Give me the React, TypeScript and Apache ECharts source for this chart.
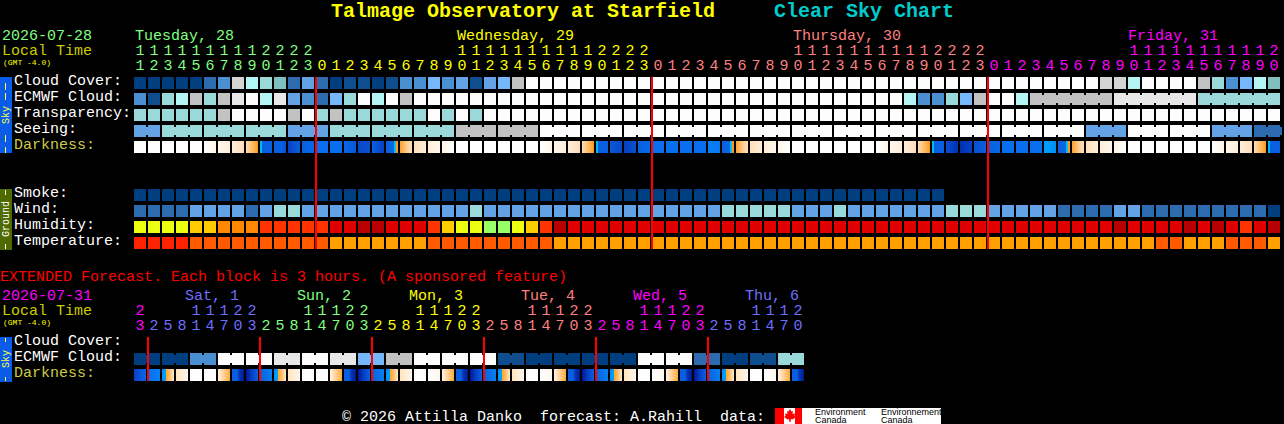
import React, { useEffect, useRef } from "react";
import * as echarts from "echarts";

// ---------- tick labels ----------
const hoursMain = [
  11, 12, 13, 14, 15, 16, 17, 18, 19, 20, 21, 22, 23,
  0, 1, 2, 3, 4, 5, 6, 7, 8, 9, 10, 11, 12, 13, 14, 15, 16, 17, 18, 19, 20, 21, 22, 23,
  0, 1, 2, 3, 4, 5, 6, 7, 8, 9, 10, 11, 12, 13, 14, 15, 16, 17, 18, 19, 20, 21, 22, 23,
  0, 1, 2, 3, 4, 5, 6, 7, 8, 9, 10, 11, 12, 13, 14, 15, 16, 17, 18, 19, 20,
];
const dayOfColMain = [
  0, 0, 0, 0, 0, 0, 0, 0, 0, 0, 0, 0, 0,
  1, 1, 1, 1, 1, 1, 1, 1, 1, 1, 1, 1, 1, 1, 1, 1, 1, 1, 1, 1, 1, 1, 1, 1,
  2, 2, 2, 2, 2, 2, 2, 2, 2, 2, 2, 2, 2, 2, 2, 2, 2, 2, 2, 2, 2, 2, 2, 2,
  3, 3, 3, 3, 3, 3, 3, 3, 3, 3, 3, 3, 3, 3, 3, 3, 3, 3, 3, 3, 3,
];
const hoursExt = [
  23,
  2, 5, 8, 11, 14, 17, 20, 23,
  2, 5, 8, 11, 14, 17, 20, 23,
  2, 5, 8, 11, 14, 17, 20, 23,
  2, 5, 8, 11, 14, 17, 20, 23,
  2, 5, 8, 11, 14, 17, 20, 23,
  2, 5, 8, 11, 14, 17, 20,
];
const dayOfColExt = [
  0,
  1, 1, 1, 1, 1, 1, 1, 1,
  2, 2, 2, 2, 2, 2, 2, 2,
  3, 3, 3, 3, 3, 3, 3, 3,
  4, 4, 4, 4, 4, 4, 4, 4,
  5, 5, 5, 5, 5, 5, 5, 5,
  6, 6, 6, 6, 6, 6, 6,
];
const rowLabelsMain = [
  "Cloud Cover:", "ECMWF Cloud:", "Transparency:", "Seeing:", "Darkness:", "", "",
  "Smoke:", "Wind:", "Humidity:", "Temperature:",
];
const rowLabelsExt = ["Cloud Cover:", "ECMWF Cloud:", "Darkness:"];

// ---------- series values (levels into the palettes below) ----------
const cloudCover = [
  0, 0, 0, 0, 0, 2, 3, 12, 8, 6,
  7, 2, 4, 2, 0, 1, 1, 0, 1, 3,
  3, 5, 3, 4, 1, 4, 5, 9, 11, 11,
  11, 11, 11, 11, 11, 11, 11, 11, 11, 11,
  11, 11, 11, 11, 11, 11, 11, 11, 11, 11,
  11, 11, 11, 11, 11, 11, 11, 11, 11, 11,
  11, 11, 11, 11, 11, 11, 11, 11, 11, 12,
  12, 8, 11, 11, 11, 11, 9, 6, 3, 5,
  8, 7,
];
const ecmwfCloud = [
  3, 1, 6, 8, 9, 6, 9, 10, 11, 8,
  10, 4, 3, 2, 5, 6, 11, 8, 11, 9,
  11, 11, 11, 11, 11, 11, 11, 11, 11, 11,
  11, 11, 11, 11, 11, 11, 11, 11, 11, 11,
  11, 11, 11, 11, 11, 11, 11, 11, 11, 11,
  11, 11, 11, 11, 11, 8, 3, 3, 6, 5,
  9, 11, 11, 8, 9, 9, 9, 9, 9, 9,
  10, 10, 10, 10, 10, 10, 6, 6, 6, 6,
  6, 6,
];
const transparency = [
  6, 6, 6, 6, 6, 6, 9, 11, 11, 11,
  11, 9, 11, 6, 9, 6, 6, 6, 6, 6,
  6, 11, 6, 11, 6, 11, 11, 11, 11, 11,
  11, 11, 11, 11, 11, 11, 11, 11, 11, 11,
  11, 11, 11, 11, 11, 11, 11, 11, 11, 11,
  11, 11, 11, 11, 11, 11, 11, 11, 11, 11,
  11, 11, 11, 11, 11, 11, 11, 11, 11, 11,
  11, 11, 11, 11, 11, 11, 11, 11, 11, 11,
  11, 11,
];
const seeing = [
  4, 4, 6, 6, 6, 6, 6, 6, 6, 6,
  6, 4, 4, 4, 6, 6, 6, 6, 6, 6,
  6, 6, 6, 9, 9, 9, 9, 9, 9, 11,
  11, 11, 11, 11, 11, 11, 11, 11, 11, 11,
  11, 11, 11, 11, 11, 11, 11, 11, 11, 11,
  11, 11, 11, 11, 11, 11, 11, 11, 11, 11,
  11, 11, 11, 11, 11, 11, 11, 11, 4, 4,
  4, 11, 11, 11, 11, 11, 11, 4, 4, 4,
  2, 2,
];
const smoke = [
  0, 0, 0, 0, 0, 0, 0, 0, 0, 0,
  0, 0, 0, 0, 0, 0, 0, 0, 0, 0,
  0, 0, 0, 0, 0, 0, 0, 0, 0, 0,
  0, 0, 0, 0, 0, 0, 0, 0, 0, 0,
  0, 0, 0, 0, 0, 0, 0, 0, 0, 0,
  0, 0, 0, 0, 0, 0, 0, 0,
];
const wind = [
  2, 2, 2, 2, 4, 4, 4, 4, 2, 4,
  6, 6, 4, 4, 4, 4, 4, 4, 4, 4,
  4, 4, 4, 4, 6, 4, 4, 4, 4, 4,
  4, 4, 4, 4, 4, 4, 4, 4, 4, 4,
  4, 4, 6, 6, 6, 6, 6, 4, 4, 4,
  6, 4, 4, 4, 4, 4, 4, 4, 6, 6,
  6, 4, 4, 4, 4, 4, 2, 2, 2, 2,
  4, 4, 2, 2, 2, 2, 2, 2, 2, 2,
  2, 0,
];
const humidity = [
  0, 0, 0, 0, 1, 1, 2, 2, 2, 3,
  3, 3, 3, 3, 4, 4, 5, 5, 4, 4,
  4, 3, 1, 0, 0, 6, 6, 0, 1, 3,
  5, 4, 4, 4, 4, 4, 4, 4, 4, 4,
  4, 4, 4, 4, 4, 4, 4, 4, 4, 4,
  4, 4, 4, 4, 4, 4, 4, 4, 4, 4,
  4, 4, 4, 4, 4, 4, 4, 4, 4, 4,
  5, 4, 4, 4, 4, 5, 4, 5, 4, 3,
  4, 5,
];
const temperature = [
  0, 0, 0, 0, 1, 1, 1, 1, 1, 1,
  1, 1, 1, 1, 2, 2, 2, 2, 2, 2,
  2, 1, 1, 1, 1, 1, 1, 1, 1, 1,
  2, 2, 2, 2, 2, 2, 2, 2, 2, 2,
  2, 2, 2, 2, 2, 2, 2, 2, 2, 2,
  2, 2, 2, 2, 2, 2, 2, 2, 2, 2,
  2, 2, 2, 2, 2, 2, 2, 2, 2, 2,
  2, 2, 2, 1, 1, 2, 2, 2, 1, 1,
  1, 2,
];
const darknessMain = [
  "W", "W", "W", "W", "W", "A", "B", "C", "D", "E",
  "b", "c", "d", "e", "e", "f", "g", "h", "F", "G",
  "C2", "B2", "A2", "W", "W", "W", "W", "W", "W", "A",
  "B", "C", "D", "E", "j", "k", "d", "e", "e", "e",
  "e", "l", "F", "G", "C2", "B2", "A2", "W", "W", "W",
  "W", "W", "W", "A", "B", "C", "D", "E", "m", "n",
  "o", "d", "e", "e", "e", "p", "F", "G", "C2", "B2",
  "A2", "W", "W", "W", "W", "W", "W", "A", "B", "C",
  "D", "E",
];
const ecmwfExt = [
  0, 0, 0, 0, 3, 3, 11, 11, 11, 11,
  10, 10, 11, 11, 10, 10, 5, 5, 9, 9,
  11, 11, 11, 11, 11, 11, 1, 1, 0, 0,
  0, 0, 0, 0, 0, 0, 11, 11, 11, 11,
  2, 2, 0, 0, 1, 1, 6, 6,
];
const darknessExt = [
  "s", "t", "u", "q", "W", "W", "v", "x",
  "y", "z", "u", "q", "W", "W", "v", "x",
  "y", "z", "u", "q", "W", "A", "v", "x",
  "y", "z", "u", "q", "W", "A", "v", "x",
  "y", "z", "u", "q", "W", "A", "v", "x",
  "y", "z", "u", "q", "W", "A", "v", "x",
];
const seeingBlockStarts = [
  0, 2, 5, 8, 11, 14, 17, 20, 23, 26, 29, 32, 35, 38, 41, 44, 47, 50, 53, 56, 59, 62, 65, 68, 71, 74, 77, 80,
];
const ecmwfJoinedBlocks = [[64, 69], [70, 75], [76, 81]];
const midnightColsMain = [13, 37, 61];
const midnightColsExt = [1, 9, 17, 25, 33, 41];

// ---------- styles ----------
const MONO = '"Liberation Mono", monospace';
const cloudPalette = [
  "#003f7f", "#0f4e8e", "#2c6cae", "#4b8fd3", "#62a2e5", "#76b6fa", "#99d9d9",
  "#7fbfbf", "#b3f5f5", "#c2c2c2", "#e8e8e8", "#fdfdfd", "#d4d4d4",
];
const humidityPalette = ["#ecff10", "#ffcc00", "#ff8800", "#ff3300", "#e00000", "#b80000", "#99ff66"];
const temperaturePalette = ["#ff2200", "#ff5a00", "#ffa000"];
const dayColorsMain = ["#80ff80", "#ffff00", "#ff8080", "#ff00ff"];
const dayColorsExt = ["#ff00ff", "#6f6fff", "#80ff80", "#ffff00", "#ff8080", "#ff00ff", "#6f6fff"];

type Stop = [number, string];
const darkTokens: Record<string, Stop[]> = {
  W: [[0, "#ffffff"], [1, "#ffffff"]],
  A: [[0, "#ffffff"], [1, "#fff6ea"]],
  B: [[0, "#fff6ea"], [1, "#ffeed8"]],
  C: [[0, "#ffeed8"], [1, "#ffdfb8"]],
  D: [[0, "#ffdcae"], [0.6, "#ffb860"], [1, "#ff9a10"]],
  E: [[0, "#00b0f0"], [0.16, "#00c0f0"], [0.18, "#0860e0"], [1, "#0860e0"]],
  F: [[0, "#0860e0"], [0.66, "#0868e8"], [0.68, "#00c0f0"], [0.82, "#00c0f0"], [0.84, "#ff9a10"], [1, "#ff9a10"]],
  G: [[0, "#ffa030"], [0.6, "#ffd090"], [1, "#ffe0b8"]],
  C2: [[0, "#ffdfb8"], [1, "#ffeed8"]],
  B2: [[0, "#ffeed8"], [1, "#fff6ea"]],
  A2: [[0, "#fff6ea"], [1, "#ffffff"]],
  b: [[0, "#0860e0"], [0.6, "#0860e0"], [1, "#0850d0"]],
  c: [[0, "#0840c0"], [1, "#0860e0"]],
  d: [[0, "#0860e0"], [1, "#0868e8"]],
  e: [[0, "#0870f0"], [1, "#0870f0"]],
  f: [[0, "#0868e8"], [1, "#0858d8"]],
  g: [[0, "#0848c8"], [1, "#0850d0"]],
  h: [[0, "#0860e0"], [1, "#0840c8"]],
  j: [[0, "#0858d8"], [1, "#0848c8"]],
  k: [[0, "#0840c0"], [1, "#0850d0"]],
  l: [[0, "#0880f8"], [1, "#0878f0"]],
  m: [[0, "#0850d8"], [1, "#0030b0"]],
  n: [[0, "#0030b0"], [1, "#0840c8"]],
  o: [[0, "#0850d0"], [1, "#0860e0"]],
  p: [[0, "#00a0ff"], [1, "#0090f8"]],
  s: [[0, "#0840c8"], [1, "#0868e8"]],
  t: [[0, "#0870f0"], [1, "#0880f8"]],
  u: [[0, "#0090f8"], [0.32, "#00a0ff"], [0.34, "#ffa020"], [1, "#ffe8c8"]],
  q: [[0, "#ffe4c0"], [1, "#fff6ea"]],
  v: [[0, "#fff4e4"], [0.5, "#ffd090"], [1, "#ffa840"]],
  x: [[0, "#0860e0"], [0.45, "#0860e0"], [0.5, "#0840c0"], [1, "#001a90"]],
  y: [[0, "#001a90"], [0.5, "#0840c8"], [1, "#0860e0"]],
  z: [[0, "#0860e0"], [1, "#0880f0"]],
};

function cellSeries(
  name: string,
  gridAxis: number,
  row: number,
  values: number[],
  palette: string[],
  joinsNext: (col: number) => boolean,
) {
  return {
    name,
    type: "custom",
    xAxisIndex: gridAxis,
    yAxisIndex: gridAxis === 0 ? 0 : 1,
    silent: true,
    clip: false,
    encode: { x: 0, y: 1 },
    data: values.map((v, col) => [col, row, v]),
    renderItem: (_p: any, api: any) => {
      const col = api.value(0);
      const [cx, cy] = api.coord([col, api.value(1)]);
      const fill = palette[api.value(2)];
      const children: any[] = [
        { type: "rect", shape: { x: cx - 6, y: cy - 6, width: 12, height: 12 }, style: { fill } },
      ];
      if (joinsNext(col)) {
        children.push({ type: "rect", shape: { x: cx + 6, y: cy - 4, width: 2, height: 8 }, style: { fill } });
      }
      return { type: "group", children };
    },
  };
}

function darknessSeries(name: string, gridAxis: number, row: number, tokens: string[]) {
  return {
    name,
    type: "custom",
    xAxisIndex: gridAxis,
    yAxisIndex: gridAxis === 0 ? 0 : 1,
    silent: true,
    clip: false,
    encode: { x: 0, y: 1 },
    data: tokens.map((_t, col) => [col, row]),
    renderItem: (p: any, api: any) => {
      const [cx, cy] = api.coord([api.value(0), api.value(1)]);
      const stops = darkTokens[tokens[p.dataIndex]].map(([offset, color]) => ({ offset, color }));
      return {
        type: "rect",
        shape: { x: cx - 6, y: cy - 6, width: 12, height: 12 },
        style: { fill: new echarts.graphic.LinearGradient(0, 0, 1, 0, stops) },
      };
    },
  };
}

function midnightSeries(name: string, gridAxis: number, cols: number[], lastRow: number) {
  return {
    name,
    type: "custom",
    xAxisIndex: gridAxis,
    yAxisIndex: gridAxis === 0 ? 0 : 1,
    silent: true,
    clip: false,
    z: 10,
    encode: { x: 0, y: 1 },
    data: cols.map((c) => [c, lastRow]),
    renderItem: (_p: any, api: any) => {
      const col = api.value(0);
      const top = api.coord([col, 0]);
      const bottom = api.coord([col, api.value(1)]);
      const x = top[0] - api.size([1, 0])[0] / 2;
      return {
        type: "rect",
        shape: { x, y: top[1] - 6, width: 2, height: bottom[1] - top[1] + 12 },
        style: { fill: "#ff0000" },
      };
    },
  };
}

function hourAxis(gridIndex: number, labels: string[], offset: number, colorOf: (i: number) => string) {
  return {
    type: "category",
    gridIndex,
    position: "top",
    offset,
    boundaryGap: true,
    data: labels,
    axisLine: { show: false },
    axisTick: { show: false },
    splitLine: { show: false },
    axisLabel: {
      interval: 0,
      margin: 0,
      verticalAlign: "middle",
      fontFamily: MONO,
      fontSize: 15,
      color: (_v: any, i: number) => colorOf(i),
    },
  };
}

function rowAxis(gridIndex: number, labels: string[]) {
  return {
    type: "category",
    gridIndex,
    inverse: true,
    boundaryGap: true,
    data: labels,
    axisLine: { show: false },
    axisTick: { show: false },
    splitLine: { show: false },
    axisLabel: {
      interval: 0,
      margin: 119,
      align: "left",
      verticalAlign: "bottom",
      lineHeight: 4,
      fontFamily: MONO,
      fontSize: 15,
      color: (v: string) => (v === "Darkness:" ? "#cccc44" : "#ffffff"),
    },
  };
}

const label = (text: string, x: number, y: number, fill: string, size = 15, weight = "normal") => ({
  type: "text",
  x,
  y,
  silent: true,
  style: {
    text,
    fill,
    font: `${weight} ${size}px ${MONO}`,
    align: "left",
    verticalAlign: "middle",
  },
});

const vertical = (text: string, x: number, y: number, fill: string, size = 10) => ({
  type: "text",
  x,
  y,
  rotation: Math.PI / 2,
  silent: true,
  style: { text, fill, font: `${size}px ${MONO}`, align: "center", verticalAlign: "middle" },
});

const box = (x: number, y: number, width: number, height: number, fill: string) => ({
  type: "rect",
  silent: true,
  shape: { x, y, width, height },
  style: { fill },
});

const sans = (text: string, x: number, y: number) => ({
  type: "text",
  x,
  y,
  silent: true,
  style: { text, fill: "#000000", font: '9px "Liberation Sans"', align: "left", verticalAlign: "middle" },
});

const mapleLeaf = [
  [790, 409], [791.5, 411.5], [793, 411], [792.5, 414], [795, 413.5], [794.5, 416], [796, 417],
  [792.5, 419.5], [791, 419], [790.5, 422], [789.5, 422], [789, 419], [787.5, 419.5], [784, 417],
  [785.5, 416], [785, 413.5], [787.5, 414], [787, 411], [788.5, 411.5],
];

const graphics: any[] = [
  label("Talmage Observatory at Starfield", 331, 11, "#ffff00", 20, "bold"),
  label("Clear Sky Chart", 774, 11, "#00cccc", 20, "bold"),
  label("2026-07-28", 2, 36, dayColorsMain[0]),
  label("Local Time", 2, 51, "#cccc00"),
  label("(GMT -4.0)", 3, 62, "#ffff00", 8),
  label("Tuesday, 28", 135, 36, dayColorsMain[0]),
  label("Wednesday, 29", 457, 36, dayColorsMain[1]),
  label("Thursday, 30", 793, 36, dayColorsMain[2]),
  label("Friday, 31", 1128, 36, dayColorsMain[3]),

  box(0, 77, 12, 76, "#0a5ce8"),
  box(5, 83, 1, 7, "#ffff44"),
  box(5, 93, 1, 7, "#ffff44"),
  vertical("Sky", 6, 115, "#ffff44"),
  box(5, 135, 1, 7, "#ffff44"),
  box(5, 147, 1, 6, "#ffff44"),
  box(0, 189, 12, 61, "#4f6a00"),
  box(5, 190, 1, 5, "#ffffff"),
  vertical("Ground", 6, 219, "#ffffff"),
  box(5, 244, 1, 5, "#ffffff"),

  label("EXTENDED Forecast. Each block is 3 hours. (A sponsored feature)", 0, 277, "#ff0000"),
  label("2026-07-31", 2, 296, "#ff00ff"),
  label("Local Time", 2, 311, "#cccc00"),
  label("(GMT -4.0)", 3, 322, "#ffff00", 8),
  label("Sat, 1", 185, 296, dayColorsExt[1]),
  label("Sun, 2", 297, 296, dayColorsExt[2]),
  label("Mon, 3", 409, 296, dayColorsExt[3]),
  label("Tue, 4", 521, 296, dayColorsExt[4]),
  label("Wed, 5", 633, 296, dayColorsExt[5]),
  label("Thu, 6", 745, 296, dayColorsExt[6]),

  box(0, 337, 12, 45, "#0a5ce8"),
  box(5, 338, 1, 4, "#ffff44"),
  vertical("Sky", 6, 359, "#ffff44"),
  box(5, 377, 1, 4, "#ffff44"),

  label("© 2026 Attilla Danko  forecast: A.Rahill  data: ", 342, 417, "#ffffff"),
  box(775, 408, 166, 16, "#ffffff"),
  box(775, 408, 9, 16, "#ff0000"),
  box(795, 408, 7, 16, "#ff0000"),
  { type: "polygon", silent: true, shape: { points: mapleLeaf }, style: { fill: "#ff0000" } },
  sans("Environment", 815, 412),
  sans("Canada", 815, 420),
  sans("Environnement", 881, 412),
  sans("Canada", 881, 420),
];

function buildOption() {
  const isSeeingJoin = (c: number) => !seeingBlockStarts.includes(c + 1);
  const isEcmwfJoin = (c: number) => ecmwfJoinedBlocks.some(([a, b]) => c >= a && c < b);
  const isExtJoin = (c: number) => c % 2 === 0;
  const never = () => false;
  return {
    animation: false,
    backgroundColor: "#000000",
    grid: [
      { left: 133, top: 75, width: 1148, height: 176, containLabel: false },
      { left: 133, top: 335, width: 672, height: 48, containLabel: false },
    ],
    xAxis: [
      hourAxis(0, hoursMain.map((h) => String(h % 10)), 9, (i) => dayColorsMain[dayOfColMain[i]]),
      hourAxis(0, hoursMain.map((h) => (h >= 10 ? String(Math.floor(h / 10)) : "")), 24, (i) => dayColorsMain[dayOfColMain[i]]),
      hourAxis(1, hoursExt.map((h) => String(h % 10)), 9, (i) => dayColorsExt[dayOfColExt[i]]),
      hourAxis(1, hoursExt.map((h) => (h >= 10 ? String(Math.floor(h / 10)) : "")), 24, (i) => dayColorsExt[dayOfColExt[i]]),
    ],
    yAxis: [rowAxis(0, rowLabelsMain), rowAxis(1, rowLabelsExt)],
    series: [
      cellSeries("Cloud Cover", 0, 0, cloudCover, cloudPalette, never),
      cellSeries("ECMWF Cloud", 0, 1, ecmwfCloud, cloudPalette, isEcmwfJoin),
      cellSeries("Transparency", 0, 2, transparency, cloudPalette, never),
      cellSeries("Seeing", 0, 3, seeing, cloudPalette, isSeeingJoin),
      darknessSeries("Darkness", 0, 4, darknessMain),
      cellSeries("Smoke", 0, 7, smoke, cloudPalette, never),
      cellSeries("Wind", 0, 8, wind, cloudPalette, never),
      cellSeries("Humidity", 0, 9, humidity, humidityPalette, never),
      cellSeries("Temperature", 0, 10, temperature, temperaturePalette, never),
      midnightSeries("Midnight", 0, midnightColsMain, 10),
      cellSeries("ECMWF Extended", 2, 1, ecmwfExt, cloudPalette, isExtJoin),
      darknessSeries("Darkness Extended", 2, 2, darknessExt),
      midnightSeries("Midnight Extended", 2, midnightColsExt, 2),
    ],
    graphic: graphics,
  };
}

export default function App() {
  const ref = useRef<HTMLDivElement | null>(null);
  useEffect(() => {
    document.body.style.margin = "0";
    document.body.style.background = "#000000";
    const chart = echarts.init(ref.current!, undefined, { renderer: "svg" });
    chart.setOption(buildOption() as any);
    return () => chart.dispose();
  }, []);
  return <div ref={ref} style={{ width: 1284, height: 424 }} />;
}
